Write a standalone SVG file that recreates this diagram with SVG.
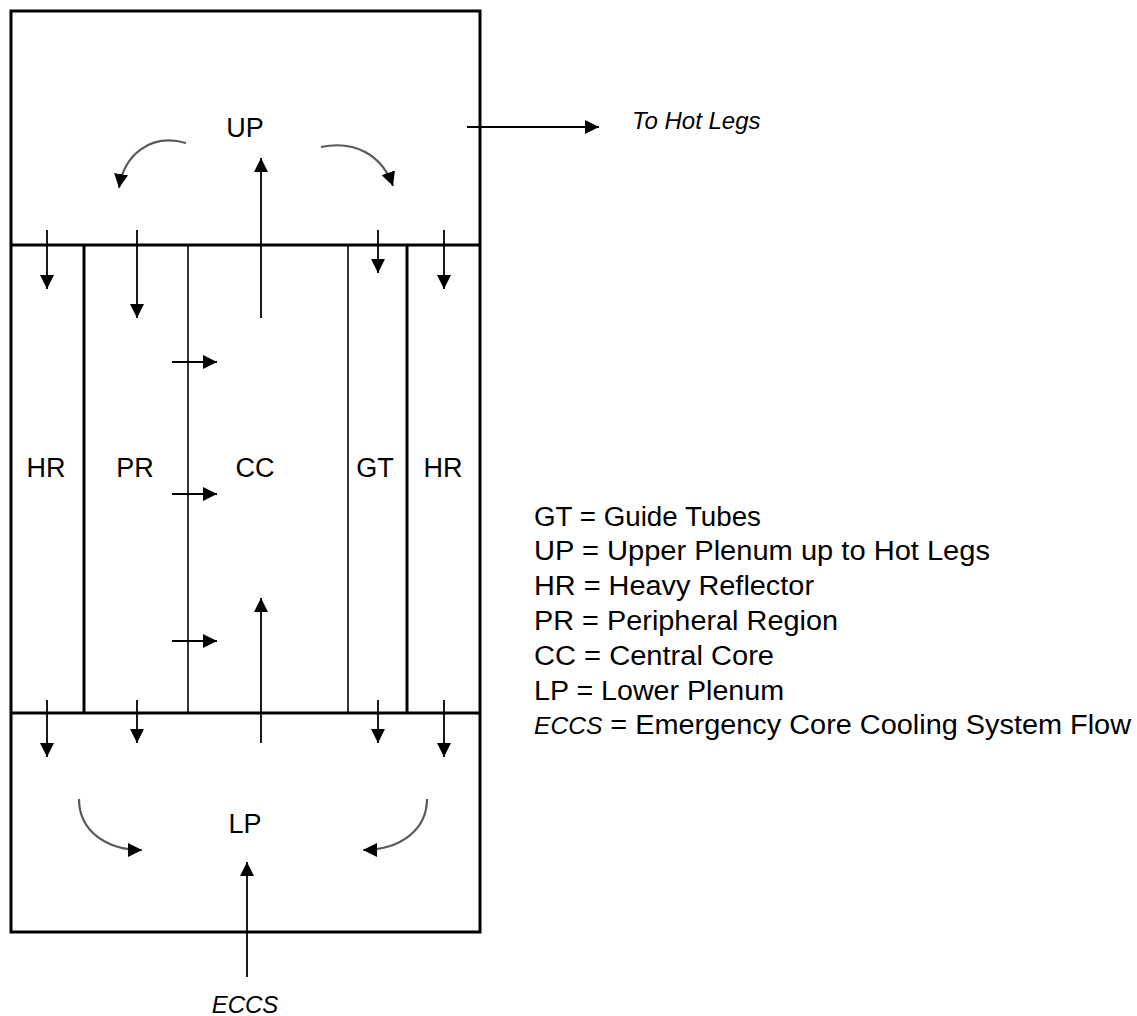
<svg xmlns="http://www.w3.org/2000/svg" width="1137" height="1016" viewBox="0 0 1137 1016">
<style>
.thick{stroke:#000;stroke-width:3;fill:none}
.thin{stroke:#000;stroke-width:1.6;fill:none}
.arr{stroke:#000;stroke-width:1.8;fill:none;marker-end:url(#ah)}
.curve{stroke:#5a5a5a;stroke-width:2.2;fill:none;marker-end:url(#ah)}
.lbl{font-family:"Liberation Sans",Arial,sans-serif;font-size:27px;fill:#000;text-anchor:middle}
.ital{font-family:"Liberation Sans",Arial,sans-serif;font-size:24px;font-style:italic;fill:#000}
.leg{font-family:"Liberation Sans",Arial,sans-serif;font-size:27px;fill:#000}
</style>
<defs>
<marker id="ah" markerUnits="userSpaceOnUse" markerWidth="15" markerHeight="15" refX="14" refY="7" orient="auto">
<path d="M0,0 L14,7 L0,14 z" fill="#000"/>
</marker>
</defs>
<rect width="1137" height="1016" fill="#fff"/>
<g id="vessel">
<rect x="11" y="11" width="469" height="921" class="thick"/>
<line x1="11" y1="245" x2="480" y2="245" class="thick"/>
<line x1="11" y1="713" x2="480" y2="713" class="thick"/>
<line x1="84" y1="245" x2="84" y2="713" class="thick"/>
<line x1="407" y1="245" x2="407" y2="713" class="thick"/>
<line x1="188" y1="245" x2="188" y2="713" class="thin"/>
<line x1="348" y1="245" x2="348" y2="713" class="thin"/>
</g>
<g id="UP"><text x="245" y="137" class="lbl">UP</text></g>
<g id="HR-left"><text x="46" y="477" class="lbl">HR</text></g>
<g id="PR"><text x="135" y="477" class="lbl">PR</text></g>
<g id="CC"><text x="255" y="477" class="lbl">CC</text></g>
<g id="GT"><text x="375" y="477" class="lbl">GT</text></g>
<g id="HR-right"><text x="443" y="477" class="lbl">HR</text></g>
<g id="LP"><text x="245" y="833" class="lbl">LP</text></g>
<g id="hotlegs"><text x="632" y="129" class="ital">To Hot Legs</text></g>
<g id="eccs"><text x="245" y="1013" class="ital" text-anchor="middle">ECCS</text></g>
<g id="connectors">
<line x1="467" y1="127" x2="599" y2="127" class="arr"/>
<line x1="261" y1="318" x2="261" y2="158" class="arr"/>
<line x1="47" y1="230" x2="47" y2="289" class="arr"/>
<line x1="137" y1="230" x2="137" y2="318" class="arr"/>
<line x1="378" y1="230" x2="378" y2="273" class="arr"/>
<line x1="444" y1="230" x2="444" y2="289" class="arr"/>
<path d="M186,143 C150,133 124,155 119,188" class="curve"/>
<path d="M321,147 C355,140 382,155 393,186" class="curve"/>
<line x1="172" y1="362" x2="217" y2="362" class="arr"/>
<line x1="172" y1="494" x2="217" y2="494" class="arr"/>
<line x1="172" y1="641" x2="217" y2="641" class="arr"/>
<line x1="261" y1="743" x2="261" y2="598" class="arr"/>
<line x1="47" y1="700" x2="47" y2="757" class="arr"/>
<line x1="137" y1="700" x2="137" y2="743" class="arr"/>
<line x1="378" y1="700" x2="378" y2="743" class="arr"/>
<line x1="444" y1="700" x2="444" y2="757" class="arr"/>
<path d="M79,799 C79,830 105,850 142,850" class="curve"/>
<path d="M427,799 C427,830 400,850 363,850" class="curve"/>
<line x1="247" y1="977" x2="247" y2="862" class="arr"/>
</g>
<g id="legend">
<text x="534" y="526" class="leg" textLength="227" lengthAdjust="spacingAndGlyphs">GT = Guide Tubes</text>
<text x="534" y="560" class="leg" textLength="456" lengthAdjust="spacingAndGlyphs">UP = Upper Plenum up to Hot Legs</text>
<text x="534" y="595" class="leg" textLength="280" lengthAdjust="spacingAndGlyphs">HR = Heavy Reflector</text>
<text x="534" y="630" class="leg" textLength="304" lengthAdjust="spacingAndGlyphs">PR = Peripheral Region</text>
<text x="534" y="665" class="leg" textLength="240" lengthAdjust="spacingAndGlyphs">CC = Central Core</text>
<text x="534" y="700" class="leg" textLength="250" lengthAdjust="spacingAndGlyphs">LP = Lower Plenum</text>
<text x="534" y="734" class="leg" textLength="597" lengthAdjust="spacingAndGlyphs"><tspan font-style="italic" font-size="23px">ECCS</tspan> = Emergency Core Cooling System Flow</text>
</g>
</svg>
